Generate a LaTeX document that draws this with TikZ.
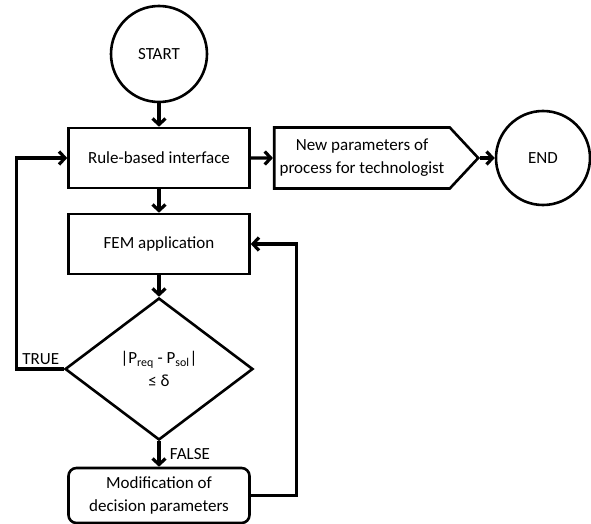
\documentclass[tikz,border=0pt]{standalone}
\usepackage{fontspec}
\setmainfont{Carlito}
\usetikzlibrary{shapes.geometric,shapes.symbols,arrows.meta}
\begin{document}
\begin{tikzpicture}[x=1pt, y=-1pt, font=\fontsize{17}{23}\selectfont, line join=miter, line width=2.6pt, >={Straight Barb[length=6pt,width=13pt]},
		term/.style={circle, draw, minimum size=96pt, inner sep=0pt},
		proc/.style={rectangle, draw, minimum width=181pt, minimum height=60pt, align=center},
		outp/.style={signal, signal to=east, signal pointer angle=94, draw, minimum width=204pt, minimum height=61pt, align=center, inner sep=2pt},
		cond/.style={diamond, draw, minimum width=188pt, minimum height=142pt, inner sep=0pt, align=center},
		flow/.style={->, line width=3.2pt}]
		\useasboundingbox (0,0) rectangle (591,524);
		\node[term] (start) at (159,54) {START};
		\node[proc] (rule) at (159,158) {Rule-based interface};
		\node[outp] (newpar) at (362,158) {New parameters of\\process for technologist};
		\node[term, minimum size=94pt] (end) at (543,158) {END};
		\node[proc] (fem) at (159,244) {FEM application};
		\node[cond] (check) at (159,369) {|P\textsubscript{req} - P\textsubscript{sol}|\\≤ δ};
		\node[proc, rounded corners=8pt, minimum height=55pt] (modif) at (159,495.5) {Modification of\\decision parameters};
		\draw[flow] (start)--(rule);
		\draw[flow] (rule)--(newpar);
		\draw[flow] (newpar.east)--(end);
		\draw[flow] (rule)--(fem);
		\draw[flow] (fem)--(check);
		\draw[flow] (check)--(modif) node[midway, right=6pt]{FALSE};
		\draw[flow] (check.west) node[anchor=south east, inner sep=3pt]{TRUE} -- ++(-47,0) |- (rule.west);
		\draw[flow] (modif.east) -- ++(46,0) |- (fem.east);
	\end{tikzpicture}
\end{document}
